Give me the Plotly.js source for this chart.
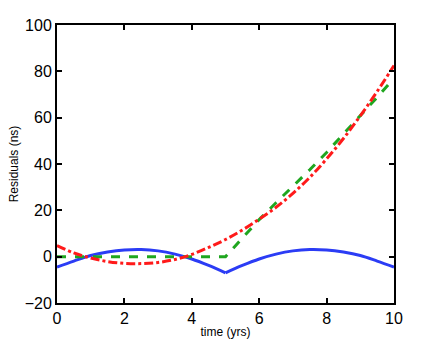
<!DOCTYPE html>
<html>
<head>
<meta charset="utf-8">
<script src="https://cdn.plot.ly/plotly-3.0.1.min.js"></script>
<style>
  html, body { margin: 0; padding: 0; background: #fff; }
  #chart { width: 436px; height: 341px; }
</style>
</head>
<body>
<div id="chart"></div>
<script>
// time in years
var t = [0, 0.5, 1, 1.5, 2, 2.5, 3, 3.5, 4, 4.5, 5, 5.5, 6, 6.5, 7, 7.5, 8, 8.5, 9, 9.5, 10]

// residuals (ns)
var blue = [-4.5, -1.9, 0.5, 2.0, 2.9, 3.1, 2.5, 1.1, -1.0, -3.8, -7.0, -3.8, -1.0, 1.1, 2.5, 3.1, 2.9, 2.0, 0.5, -1.9, -4.5]
var red = [4.8, 1.6, -0.6, -2.1, -2.9, -3.0, -2.5, -1.2, 1.0, 4.0, 7.4, 11.5, 16.2, 21.3, 27.3, 34.2, 42.2, 51.0, 60.8, 71.3, 82.5]
var green = [0, 0, 0, 0, 0, 0, 0, 0, 0, 0, 0, 8.0, 16.0, 23.3, 30.3, 37.5, 45.0, 52.8, 60.8, 68.8, 77.0]

// the blue curve has a kink at t = 5, so draw its two arcs separately
var blueLine = {color: "#2b3cf5", width: 3, shape: "spline"}

var data = [
  {x: t.slice(0, 11), y: blue.slice(0, 11), mode: "lines", line: blueLine},
  {x: t.slice(10), y: blue.slice(10), mode: "lines", line: blueLine},
  {x: t, y: green, mode: "lines", line: {color: "#1fa61f", width: 3, dash: "dash"}},
  {x: t, y: red, mode: "lines", line: {color: "#ff1a1a", width: 3, dash: "dashdot", shape: "spline"}}
]

var font = "Liberation Sans, Arial, sans-serif"

var axisStyle = {
  showgrid: false,
  zeroline: false,
  showline: true,
  linecolor: "#000",
  linewidth: 2,
  mirror: "ticks",
  ticks: "inside",
  ticklen: 5,
  tickwidth: 2,
  tickcolor: "#000",
  tickfont: {family: font, size: 16, color: "#000"}
}

var layout = {
  width: 436,
  height: 341,
  margin: {l: 57, r: 42, t: 25, b: 38},
  paper_bgcolor: "#fff",
  plot_bgcolor: "#fff",
  showlegend: false,
  xaxis: Object.assign({}, axisStyle, {
    range: [0, 10], tickvals: [0, 2, 4, 6, 8, 10],
    title: {text: "time (yrs)", font: {family: font, size: 12, color: "#000"}, standoff: 1}
  }),
  yaxis: Object.assign({}, axisStyle, {
    range: [-20, 100], tickvals: [-20, 0, 20, 40, 60, 80, 100],
    title: {text: "Residuals (ns)", font: {family: font, size: 12, color: "#000"}, standoff: 3}
  })
}

Plotly.newPlot("chart", data, layout, {displayModeBar: false, staticPlot: true})
</script>
</body>
</html>
